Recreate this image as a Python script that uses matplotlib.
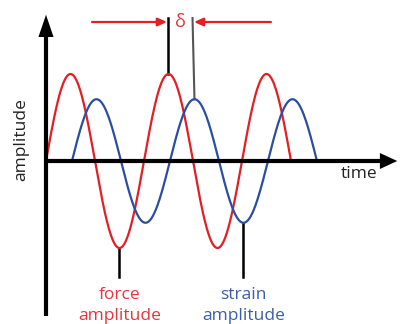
import numpy as np
import matplotlib
matplotlib.use("Agg")
import matplotlib.pyplot as plt
from matplotlib.patches import FancyArrowPatch

# ---- data (schematic values) ----
period = 1.0            # one oscillation period (time units)
n_cycles = 2.5          # number of cycles drawn
force_amp = 1.0         # force amplitude
strain_amp = 0.71       # strain amplitude
delta = 0.265           # phase lag of strain behind force (time units)
labels = ["force\namplitude", "strain\namplitude"]
axis_labels = ["time", "amplitude"]

RED = "#e31e24"
BLUE = "#2b4ea2"
RED_TXT = "#e8343c"
BLUE_TXT = "#3c5ea9"

FONT = ["Open Sans", "DejaVu Sans"]
FS = 12.5

fig = plt.figure(figsize=(4.01, 3.24), dpi=100)
ax = fig.add_axes([0, 0, 1, 1])
ax.set_xlim(-46 / 98, 355 / 98)
ax.set_ylim(-163 / 87, 161 / 87)
ax.axis("off")

# curves
t_f = np.linspace(0, n_cycles * period, 600)
y_f = force_amp * np.sin(2 * np.pi * t_f / period)
t_s = np.linspace(0, n_cycles * period, 600)
y_s = strain_amp * np.sin(2 * np.pi * t_s / period)
ax.plot(t_f, y_f, color=RED, lw=1.6, solid_capstyle="butt", zorder=3)
ax.plot(t_s + delta, y_s, color=BLUE, lw=1.6, solid_capstyle="butt", zorder=3)

# axes arrows
ax.plot([0, 0], [-155 / 87, 1.45], color="black", lw=3.0, zorder=4, solid_capstyle="butt")
ax.add_patch(FancyArrowPatch((0, 1.3), (0, 149 / 87), arrowstyle="-|>,head_length=5,head_width=1.7",
                             mutation_scale=3.2, color="black", lw=0, zorder=5))
ax.plot([0, 3.45], [0, 0], color="black", lw=3.0, zorder=4, solid_capstyle="butt")
ax.add_patch(FancyArrowPatch((3.3, 0), (354 / 98, 0), arrowstyle="-|>,head_length=3.9,head_width=1.8",
                             mutation_scale=3.2, color="black", lw=0, zorder=5))

# marker lines at peaks / troughs
pk_f = period / 4 + period          # second force peak
pk_s = period / 4 + period + delta  # second strain peak
tr_f = 3 * period / 4               # first force trough
tr_s = 3 * period / 4 + period + delta  # second strain trough
y_top = 143 / 87
ax.plot([pk_f, pk_f], [force_amp, y_top], color="black", lw=1.8, zorder=2)
ax.plot([pk_s, pk_s - 0.02], [strain_amp, y_top], color="#555555", lw=1.5, zorder=2)
y_bot = -116 / 87
ax.plot([tr_f, tr_f], [-force_amp, y_bot], color="black", lw=1.8, zorder=2)
ax.plot([tr_s, tr_s], [-strain_amp, y_bot], color="black", lw=1.8, zorder=2)

# delta arrows
y_arr = 139 / 87
ax.add_patch(FancyArrowPatch((pk_f - 0.78, y_arr), (pk_f - 0.015, y_arr),
                             arrowstyle="-|>,head_length=1.8,head_width=0.8", mutation_scale=3,
                             color=RED, lw=1.6, shrinkA=0, shrinkB=0))
ax.add_patch(FancyArrowPatch((pk_s + 0.78, y_arr), (pk_s - 0.005, y_arr),
                             arrowstyle="-|>,head_length=1.8,head_width=0.8", mutation_scale=3,
                             color=RED, lw=1.6, shrinkA=0, shrinkB=0))
ax.text((pk_f + pk_s) / 2 - 0.01, y_arr, "δ", color=RED_TXT, fontsize=13, family=FONT,
        ha="center", va="center")

# labels
ax.text(tr_f, -1.66, labels[0], color=RED_TXT, fontsize=FS, family=FONT,
        ha="center", va="center", linespacing=1.4)
ax.text(tr_s, -1.66, labels[1], color=BLUE_TXT, fontsize=FS, family=FONT,
        ha="center", va="center", linespacing=1.4)
ax.text(3.19, -0.145, axis_labels[0], color="#222222", fontsize=FS, family=FONT,
        ha="center", va="center")
ax.text(-0.255, 0.25, axis_labels[1], color="#222222", fontsize=FS, family=FONT,
        ha="center", va="center", rotation=90)

fig.savefig("out.png", dpi=100)
